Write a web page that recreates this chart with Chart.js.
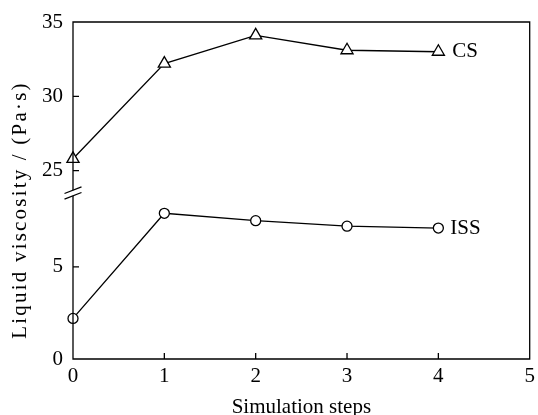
<!DOCTYPE html>
<html>
<head>
<meta charset="utf-8">
<script src="https://cdn.jsdelivr.net/npm/chart.js@4"></script>
<style>
  html, body { margin: 0; padding: 0; background: #fff; }
  canvas { display: block; }
</style>
</head>
<body>
<canvas id="viscosityChart" width="538" height="415"></canvas>
<script>
const steps = [0, 1, 2, 3, 4];
const csViscosity = [25.8, 32.2, 34.1, 33.1, 33.0];
const issViscosity = [2.2, 7.9, 7.5, 7.2, 7.1];
const xTicks = [0, 1, 2, 3, 4, 5];
const upperTicks = [25, 30, 35];
const lowerTicks = [0, 5];

const serif = "'Liberation Serif', 'Times New Roman', serif";
const ink = "#000";

function fixedTicks(values) {
  return (scale) => {
    scale.ticks = values.map((v) => ({ value: v }));
  };
}

function fitWidth(w) {
  return (scale) => {
    scale.width = w;
    scale.paddingTop = 0;
    scale.paddingBottom = 0;
  };
}

// inward ticks, box frame and the axis break on the left side
const framePlugin = {
  id: "frame",
  afterDatasetsDraw(chart) {
    const { ctx, chartArea: area, scales } = chart;
    const lower = scales.yLower;
    const upper = scales.yUpper;
    const breakY = lower.top;
    const gap = 2.8;

    ctx.save();
    ctx.strokeStyle = ink;
    ctx.lineWidth = 1.3;
    ctx.beginPath();
    ctx.moveTo(area.left, breakY - gap);
    ctx.lineTo(area.left, area.top);
    ctx.lineTo(area.right, area.top);
    ctx.lineTo(area.right, area.bottom);
    ctx.lineTo(area.left, area.bottom);
    ctx.lineTo(area.left, breakY + gap);

    const tick = 6;
    scales.x.ticks.forEach((t) => {
      const x = scales.x.getPixelForValue(t.value);
      ctx.moveTo(x, area.bottom);
      ctx.lineTo(x, area.bottom - tick);
    });
    [lower, upper].forEach((scale) => {
      scale.ticks.forEach((t) => {
        const y = scale.getPixelForValue(t.value);
        ctx.moveTo(area.left, y);
        ctx.lineTo(area.left + tick, y);
      });
    });
    ctx.stroke();

    // the two slashes
    ctx.beginPath();
    [-gap, gap].forEach((d) => {
      ctx.moveTo(area.left - 8.5, breakY + d + 3.3);
      ctx.lineTo(area.left + 8.5, breakY + d - 3.3);
    });
    ctx.stroke();

    // series names at the end of each line
    ctx.fillStyle = ink;
    ctx.font = "21px " + serif;
    ctx.textAlign = "left";
    ctx.textBaseline = "middle";
    chart.data.datasets.forEach((ds, i) => {
      const pts = chart.getDatasetMeta(i).data;
      const last = pts[pts.length - 1];
      ctx.fillText(ds.label, last.x + ds.pointRadius + 7, last.y);
    });

    // y axis title
    ctx.translate(20, 210);
    ctx.rotate(-Math.PI / 2);
    ctx.textAlign = "center";
    ctx.letterSpacing = "2.2px";
    ctx.fillText("Liquid viscosity / (Pa\u00b7s)", 0, 0);
    ctx.restore();
  },
};

new Chart(document.getElementById("viscosityChart"), {
  type: "line",
  data: {
    labels: steps,
    datasets: [
      {
        label: "CS",
        data: steps.map((s, i) => ({ x: s, y: csViscosity[i] })),
        yAxisID: "yUpper",
        borderColor: ink,
        borderWidth: 1.3,
        pointStyle: "triangle",
        pointRadius: 7,
        pointBorderWidth: 1.3,
        pointBackgroundColor: "#fff",
        pointBorderColor: ink,
        clip: false,
      },
      {
        label: "ISS",
        data: steps.map((s, i) => ({ x: s, y: issViscosity[i] })),
        yAxisID: "yLower",
        borderColor: ink,
        borderWidth: 1.3,
        pointStyle: "circle",
        pointRadius: 5,
        pointBorderWidth: 1.3,
        pointBackgroundColor: "#fff",
        pointBorderColor: ink,
        clip: false,
      },
    ],
  },
  options: {
    responsive: false,
    animation: false,
    layout: { padding: { top: 22, right: 5, left: 0, bottom: 0 } },
    plugins: {
      legend: { display: false },
      tooltip: { enabled: false },
    },
    scales: {
      x: {
        type: "linear",
        position: "bottom",
        min: 0,
        max: 5,
        afterBuildTicks: fixedTicks(xTicks),
        afterFit: (scale) => {
          scale.height = 56;
          scale.paddingLeft = 0;
          scale.paddingRight = 0;
        },
        grid: { display: false, drawTicks: false },
        border: { display: false },
        ticks: { color: ink, padding: 5, font: { family: serif, size: 21 } },
        title: {
          display: true,
          text: "Simulation steps",
          color: ink,
          padding: 0,
          font: { family: serif, size: 21, lineHeight: 0.7 },
        },
      },
      yUpper: {
        type: "linear",
        position: "left",
        stack: "viscosity",
        stackWeight: 171,
        weight: 1,
        min: 23.5,
        max: 35,
        afterBuildTicks: fixedTicks(upperTicks),
        afterFit: fitWidth(73),
        grid: { display: false, drawTicks: false },
        border: { display: false },
        ticks: { color: ink, padding: 10, font: { family: serif, size: 21 } },
      },
      yLower: {
        type: "linear",
        position: "left",
        stack: "viscosity",
        stackWeight: 166,
        weight: 0,
        min: 0,
        max: 9,
        afterBuildTicks: fixedTicks(lowerTicks),
        afterFit: fitWidth(73),
        grid: { display: false, drawTicks: false },
        border: { display: false },
        ticks: { color: ink, padding: 10, font: { family: serif, size: 21 } },
      },
    },
  },
  plugins: [framePlugin],
});
</script>
</body>
</html>
